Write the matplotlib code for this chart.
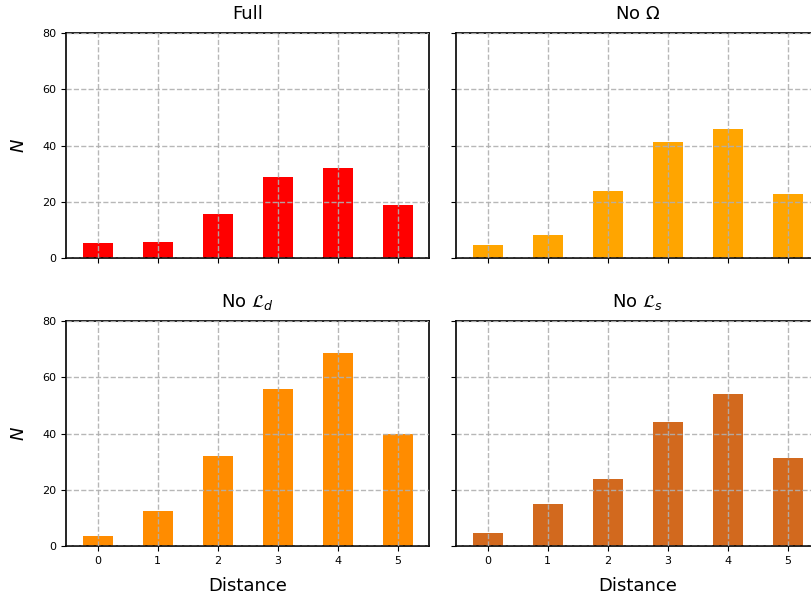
import matplotlib.pyplot as plt

distance = [0, 1, 2, 3, 4, 5]
full = [5.2, 5.6, 15.6, 28.9, 32.1, 18.8]
no_omega = [4.8, 8.3, 24.0, 41.2, 45.8, 22.6]
no_ld = [3.4, 12.3, 31.9, 55.8, 68.6, 40.0]
no_ls = [4.8, 14.8, 24.0, 44.0, 54.0, 31.2]

titles = ['Full', r'No $\Omega$', r'No $\mathcal{L}_d$', r'No $\mathcal{L}_s$']
series = [full, no_omega, no_ld, no_ls]
colors = ['red', 'orange', 'darkorange', 'chocolate']

fig = plt.figure(figsize=(8.11, 6.0), dpi=100)
# axes laid out as in the original; right column runs past the figure edge
positions = [
	[0.0814, 0.570, 0.4476, 0.375],
	[0.5623, 0.570, 0.4476, 0.375],
	[0.0814, 0.090, 0.4476, 0.375],
	[0.5623, 0.090, 0.4476, 0.375],
]

for i in range(4):
	ax = fig.add_axes(positions[i])
	ax.bar(distance, series[i], width=0.5, color=colors[i], zorder=2)
	ax.set_ylim(0, 80)
	ax.set_yticks([0, 20, 40, 60, 80])
	ax.set_xticks(distance)
	ax.grid(True, linestyle='--', color='#b0b0b0', linewidth=1, alpha=0.9, zorder=3)
	ax.set_axisbelow(False)
	ax.set_title(titles[i], fontsize=13, pad=10)
	ax.tick_params(labelsize=8)
	for s in ax.spines.values():
		s.set_linewidth(1.2)
	if i < 2:
		ax.tick_params(labelbottom=False)
	else:
		ax.set_xlabel('Distance', fontsize=13, labelpad=8)
	if i % 2 == 1:
		ax.tick_params(labelleft=False)
	else:
		ax.set_ylabel('$N$', fontsize=13, labelpad=10)

plt.savefig('out.png', dpi=100)
